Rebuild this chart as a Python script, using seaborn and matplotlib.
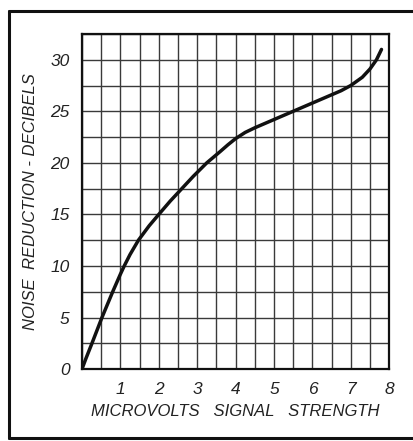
import numpy as np
import pandas as pd
import matplotlib
matplotlib.use("Agg")
import matplotlib.pyplot as plt
import seaborn as sns
from matplotlib.lines import Line2D

# ==================================================
# DATA
# ==================================================

microvolts = [0, 0.1, 0.26, 0.52, 0.8, 1.0, 1.1, 1.25, 1.47, 1.75, 2.0,
              2.3, 2.6, 2.9, 3.25, 3.6, 3.8, 4.0, 4.25, 4.5, 5.0, 5.5, 6.0,
              6.5, 6.75, 7.0, 7.15, 7.3, 7.5, 7.67, 7.8]
noise_db = [0, 1.0, 2.5, 5.0, 7.5, 9.2, 10, 11.1, 12.5, 13.9, 15,
            16.3, 17.5, 18.7, 20, 21.1, 21.75, 22.35, 22.95, 23.4, 24.2, 25.0, 25.8,
            26.6, 27.0, 27.5, 27.9, 28.3, 29.1, 30.0, 31.0]

x_ticks = [1, 2, 3, 4, 5, 6, 7, 8]
y_ticks = [0, 5, 10, 15, 20, 25, 30]

df = pd.DataFrame({"microvolts": microvolts, "noise_db": noise_db})

# ==================================================
# STYLE
# ==================================================

sns.set_style("white")
plt.rcParams["font.family"] = ["Liberation Sans Narrow", "Liberation Sans", "DejaVu Sans"]
plt.rcParams["font.style"] = "italic"

fig = plt.figure(figsize=(4.14, 4.41), dpi=100)
ax = fig.add_axes([0.198, 0.163, 0.742, 0.76])

sns.lineplot(data=df, x="microvolts", y="noise_db", ax=ax,
             color="#111111", linewidth=2.5, solid_capstyle="round",
             solid_joinstyle="round")

ax.set_xlim(0, 8)
ax.set_ylim(0, 32.5)

ax.set_xticks(x_ticks)
ax.set_xticklabels([str(t) for t in x_ticks])
ax.set_xticks(np.arange(0, 8.01, 0.5), minor=True)
ax.set_yticks(y_ticks)
ax.set_yticklabels([str(t) for t in y_ticks])
ax.set_yticks(np.arange(0, 32.6, 2.5), minor=True)

ax.grid(which="both", color="#3a3a3a", linewidth=1.0)
ax.set_axisbelow(True)
ax.tick_params(which="both", length=0, labelsize=12.5, colors="#222222")
ax.tick_params(axis="x", pad=9)
ax.tick_params(axis="y", pad=9)

for sp in ax.spines.values():
    sp.set_visible(True)
    sp.set_color("#111111")
    sp.set_linewidth(1.6)

ax.set_xlabel("MICROVOLTS   SIGNAL   STRENGTH", fontsize=12, color="#222222",
              labelpad=5)
ax.set_ylabel("NOISE  REDUCTION - DECIBELS", fontsize=12, color="#222222",
              labelpad=9)

# outer frame of the clipping
frame_kw = dict(transform=fig.transFigure, color="#111111", linewidth=2.2)
fig.add_artist(Line2D([9 / 414, 9 / 414], [1 - 11 / 441, 1 - 438 / 441], **frame_kw))
fig.add_artist(Line2D([9 / 414, 1.0], [1 - 11 / 441, 1 - 11 / 441], **frame_kw))
fig.add_artist(Line2D([9 / 414, 1.0], [1 - 438 / 441, 1 - 438 / 441], **frame_kw))

fig.savefig("out.png", dpi=100)
